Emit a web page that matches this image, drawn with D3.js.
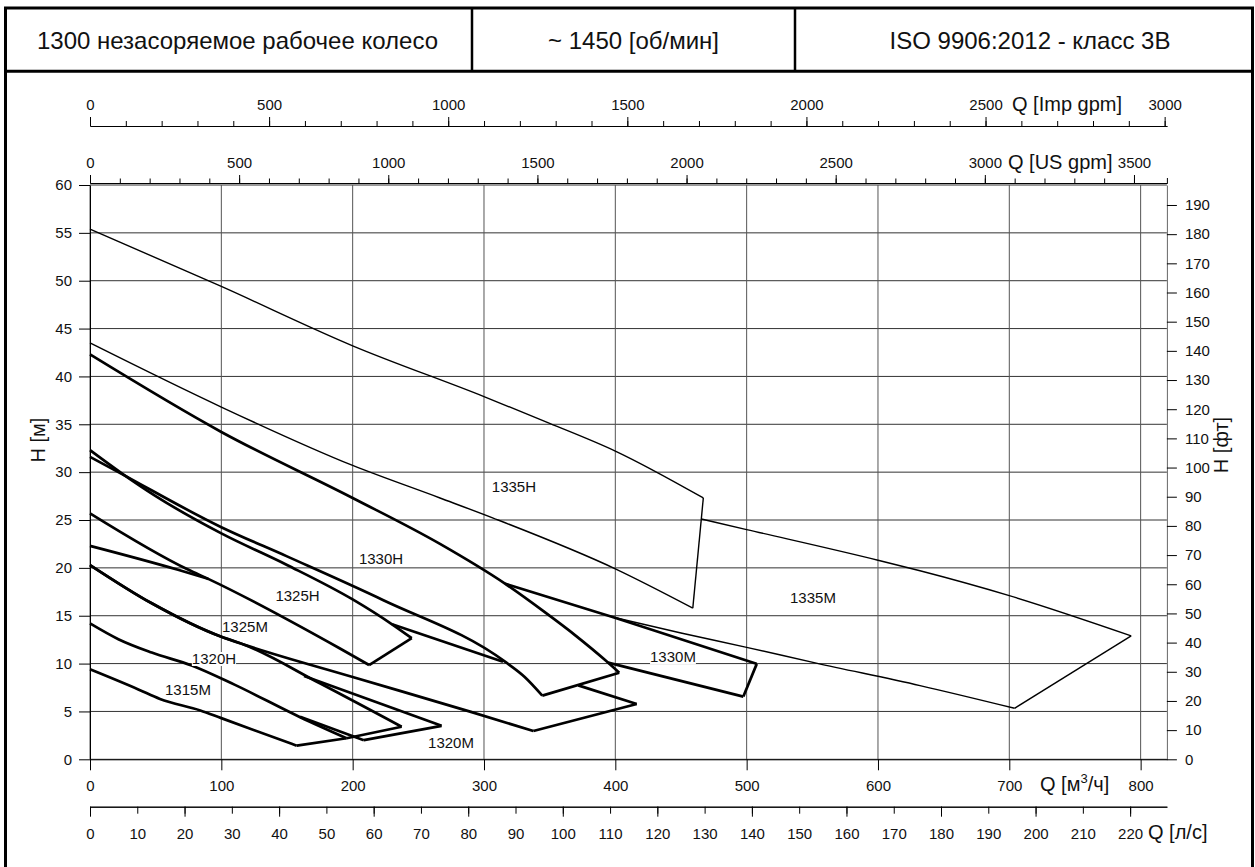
<!DOCTYPE html>
<html><head><meta charset="utf-8">
<script src="https://cdn.jsdelivr.net/npm/d3@7"></script>
<style>
html,body{margin:0;padding:0;background:#fff;}
svg{display:block;font-family:"Liberation Sans",Arial,Helvetica,sans-serif;}
</style></head><body>
<svg id="c" width="1255" height="867"></svg>
<script>
// ---------------- DATA ----------------
const headerTexts = ["1300 незасоряемое рабочее колесо", "~ 1450 [об/мин]", "ISO 9906:2012 - класс 3B"];

const hTicks   = d3.range(0, 61, 5);          // H [m]
const qTicks   = d3.range(0, 801, 100);       // Q [m3/h]
const impMajor = [0, 500, 1000, 1500, 2000, 2500, 3000];
const impMinor = d3.range(0, 3001, 100);
const usMajor  = [0, 500, 1000, 1500, 2000, 2500, 3000, 3500];
const usMinor  = d3.range(0, 3501, 100);
const lsLabels = d3.range(0, 221, 10);
const lsMajor  = d3.range(0, 221, 20);
const ftTicks  = d3.range(0, 191, 10);

// curves: [Q m3/h, H m]
const c1335H_max = [[0,55.4],[100,49.4],[200,43.2],[300,37.9],[350,35.1],[400,32.2],[467,27.3]];
const c1335H_end = [[467,27.3],[459,15.8]];
const c1335H_min = [[0,43.5],[100,36.8],[200,30.7],[266.5,27.3],[307,25.2],[400,19.9],[459,15.8]];

const c1335M_max = [[465.5,25.1],[500,24.0],[600,20.8],[632,19.7],[700,17.1],[792.8,12.9]];
const c1335M_end = [[792.8,12.9],[704,5.33]];
const c1335M_min = [[398.5,14.84],[450,13.2],[500,11.7],[553,10.05],[632,7.7],[704,5.33]];

const c1330H_max = [[0,42.3],[100,34.2],[200,27.3],[266.5,22.5],[316,18.35],[345,15.5],[370,12.9],[392,10.4],[403,9.05]];
const c1330H_end = [[403,9.05],[344.4,6.65]];
const c1330H_min = [[0,31.6],[23,29.9],[100,24.25],[150,21.2],[223,16.65],[316,10.2],[331,8.6],[344.4,6.65]];

const c1330M_max = [[316,18.35],[398.5,14.84],[507.7,9.97]];
const c1330M_end = [[507.7,9.97],[497.5,6.55]];
const c1330M_min = [[394.5,10.1],[497.5,6.55]];

const c1325H_max = [[0,32.3],[25,29.8],[50,27.5],[100,23.6],[150,20.3],[200,16.7],[230,14.1],[245,12.65]];
const c1325H_end = [[245,12.65],[212.5,9.85]];
const c1325H_min = [[0,25.7],[75,19.8],[90,18.85],[190,11.6],[212.5,9.85]];

const c1325M_maxA = [[0,22.3],[67,19.8],[90,18.85]];
const c1325M_maxB = [[230,14.1],[314.5,10.2]];
const c1325M_maxC = [[371.8,7.72],[416.3,5.78]];
const c1325M_end  = [[416.3,5.78],[337.6,2.96]];
const c1325M_min  = [[0,20.3],[47,16.3],[100,12.8],[117,12.0],[200,8.6],[289.4,4.98],[337.6,2.96]];

const c1320H_max = [[0,20.3],[47,16.3],[100,12.8],[117,12.0],[175,7.94],[237.3,3.4]];
const c1320H_end = [[237.3,3.4],[195.4,2.2]];
const c1320H_min = [[0,14.2],[21.6,12.55],[47,11.15],[77.4,9.8],[110,7.8],[160,4.4],[195.4,2.2]];

const c1315M_end = [[195.4,2.2],[157.4,1.42]];
const c1315M_min = [[0,9.4],[36.8,7.3],[53.3,6.3],[84,5.1],[100,4.3],[157.4,1.42]];

const c1320M_max = [[163,8.7],[267.7,3.5]];
const c1320M_end = [[267.7,3.5],[208.5,2.0]];
const c1320M_min = [[160,4.45],[208.5,2.0]];

const modelNames  = ["1335H","1335M","1330H","1330M","1325H","1325M","1320H","1315M","1320M"];
const modelLabelQ = [322.8, 550.5, 221.6, 443.9, 158, 118, 94.4, 74.6, 274.9];
const modelLabelH = [28.45, 16.85, 20.93, 10.69, 17.06, 13.82, 10.48, 7.24, 1.70];

// ---------------- SCALES ----------------
const IMP = 3.6662, USG = 4.4029, LS = 1/3.6, FT = 3.28084;
const x = d3.scaleLinear().domain([0, 820]).range([90, 1166.9]);
const y = d3.scaleLinear().domain([0, 60]).range([759.3, 185]);
const xImp = d3.scaleLinear().domain([0, 820*IMP]).range(x.range());
const xUS  = d3.scaleLinear().domain([0, 820*USG]).range(x.range());
const xLs  = d3.scaleLinear().domain([0, 820*LS]).range(x.range());
const yFt  = d3.scaleLinear().domain([0, 60*FT]).range(y.range());
const fmt = d3.format("d");

const svg = d3.select("#c");
const FONT = 15;

// ---------------- FRAME / HEADER ----------------
svg.append("rect").attr("x",5.5).attr("y",8).attr("width",1247).attr("height",900)
  .attr("fill","none").attr("stroke","#000").attr("stroke-width",3);
svg.append("line").attr("x1",5).attr("x2",1253).attr("y1",71.3).attr("y2",71.3)
  .attr("stroke","#000").attr("stroke-width",3);
[472, 795].forEach(d => svg.append("line").attr("x1",d).attr("x2",d).attr("y1",8).attr("y2",71)
  .attr("stroke","#000").attr("stroke-width",2.5));
const headerX = [237.5, 633.5, 1030];
headerTexts.forEach((t,i) => svg.append("text").attr("x",headerX[i]).attr("y",48.5)
  .attr("text-anchor","middle").attr("font-size",24).attr("fill","#111").text(t));

// ---------------- GRID ----------------
const grid = svg.append("g");
grid.selectAll("line.h").data(hTicks).join("line")
  .attr("x1",x(0)).attr("x2",x(820)).attr("y1",d=>y(d)).attr("y2",d=>y(d))
  .attr("stroke","#333").attr("stroke-width",1);
grid.selectAll("line.v").data(qTicks).join("line")
  .attr("x1",d=>x(d)).attr("x2",d=>x(d)).attr("y1",y(60)).attr("y2",y(0))
  .attr("stroke","#555").attr("stroke-width",1);

function styleAxis(g, color) {
  g.selectAll("text").attr("font-size",FONT).attr("font-family",null).attr("fill","#111");
  g.selectAll("line").attr("stroke",color||"#000");
  g.select(".domain").attr("stroke",color||"#000");
  g.attr("font-family",null).attr("font-size",null);
}

// Imp gpm axis
svg.append("g").attr("transform","translate(0,126)")
  .call(d3.axisTop(xImp).tickValues(impMinor).tickSize(5).tickFormat("").tickSizeOuter(0))
  .call(styleAxis);
svg.append("g").attr("transform","translate(0,126)")
  .call(d3.axisTop(xImp).tickValues(impMajor).tickSize(9).tickPadding(7).tickFormat(fmt).tickSizeOuter(0))
  .call(styleAxis);
svg.append("text").attr("x",1012).attr("y",111).attr("font-size",20).attr("fill","#111").text("Q [Imp gpm]");

// US gpm axis
svg.append("g").attr("transform","translate(0,183)")
  .call(d3.axisTop(xUS).tickValues(usMinor).tickSize(4.5).tickFormat("").tickSizeOuter(5))
  .call(styleAxis);
svg.append("g").attr("transform","translate(0,183)")
  .call(d3.axisTop(xUS).tickValues(usMajor).tickSize(8).tickPadding(7).tickFormat(fmt).tickSizeOuter(0))
  .call(styleAxis);
svg.append("text").attr("x",1008).attr("y",169).attr("font-size",20).attr("fill","#111").text("Q [US gpm]");

// left H axis
svg.append("g").attr("transform","translate(90,0)")
  .call(d3.axisLeft(y).tickValues(hTicks).tickSize(11).tickPadding(7).tickFormat(fmt).tickSizeOuter(0))
  .call(styleAxis);
svg.append("text").attr("transform","translate(45,440) rotate(-90)").attr("text-anchor","middle")
  .attr("font-size",20).attr("fill","#111").text("H [м]");

// right ft axis
svg.append("g").attr("transform","translate(1166.9,0)")
  .call(d3.axisRight(yFt).tickValues(ftTicks).tickSize(10).tickPadding(8).tickFormat(fmt).tickSizeOuter(0))
  .call(g => styleAxis(g, "#000"))
  .call(g => g.select(".domain").attr("stroke","#666"));
svg.append("text").attr("transform","translate(1228,445) rotate(-90)").attr("text-anchor","middle")
  .attr("font-size",20).attr("fill","#111").text("H [фт]");

// bottom m3/h axis
svg.append("g").attr("transform","translate(0,759.3)")
  .call(d3.axisBottom(x).tickValues(qTicks).tickSize(11).tickPadding(10.5).tickFormat(fmt).tickSizeOuter(0))
  .call(styleAxis);
const tq = svg.append("text").attr("x",1040).attr("y",791).attr("font-size",20).attr("fill","#111");
tq.append("tspan").text("Q [м");
tq.append("tspan").attr("dy",-8).attr("font-size",13).text("3");
tq.append("tspan").attr("dy",8).text("/ч]");

// l/s axis
svg.append("g").attr("transform","translate(0,806.7)")
  .call(d3.axisBottom(xLs).tickValues(lsLabels).tickSize(7).tickPadding(15).tickFormat(fmt).tickSizeOuter(0))
  .call(styleAxis);
svg.append("g").attr("transform","translate(0,806.7)")
  .call(d3.axisBottom(xLs).tickValues(lsMajor).tickSize(10).tickFormat("").tickSizeOuter(0))
  .call(styleAxis);
svg.append("text").attr("x",1148).attr("y",839).attr("font-size",20).attr("fill","#111").text("Q [л/с]");

// ---------------- CURVES ----------------
const thin = 1.4, thick = 2.7;
const series = [
  {d:c1335H_max, w:thin, s:true}, {d:c1335H_end, w:thin}, {d:c1335H_min, w:thin, s:true},
  {d:c1335M_max, w:thin, s:true}, {d:c1335M_end, w:thin}, {d:c1335M_min, w:thin, s:true},
  {d:c1330H_max, w:thick, s:true}, {d:c1330H_end, w:thick}, {d:c1330H_min, w:thick, s:true},
  {d:c1330M_max, w:thick, s:true}, {d:c1330M_end, w:thick}, {d:c1330M_min, w:thick},
  {d:c1325H_max, w:thick, s:true}, {d:c1325H_end, w:thick}, {d:c1325H_min, w:thick, s:true},
  {d:c1325M_maxA, w:thick, s:true}, {d:c1325M_maxB, w:thick}, {d:c1325M_maxC, w:thick},
  {d:c1325M_end, w:thick}, {d:c1325M_min, w:thick, s:true},
  {d:c1320H_max, w:thick, s:true}, {d:c1320H_end, w:thick}, {d:c1320H_min, w:thick, s:true},
  {d:c1315M_end, w:thick}, {d:c1315M_min, w:thick, s:true},
  {d:c1320M_max, w:thick}, {d:c1320M_end, w:thick}, {d:c1320M_min, w:thick}
];
const lineSmooth = d3.line().x(d=>x(d[0])).y(d=>y(d[1])).curve(d3.curveMonotoneX);
const lineStraight = d3.line().x(d=>x(d[0])).y(d=>y(d[1]));
svg.append("g").selectAll("path").data(series).join("path")
  .attr("d", s => (s.s ? lineSmooth : lineStraight)(s.d))
  .attr("fill","none").attr("stroke","#000").attr("stroke-width",s=>s.w)
  .attr("stroke-linejoin","miter").attr("stroke-linecap","butt");

// ---------------- MODEL LABELS ----------------
const lg = svg.append("g");
modelNames.forEach((n,i) => {
  const g = lg.append("g");
  const cx = x(modelLabelQ[i]), cy = y(modelLabelH[i]);
  const t = g.append("text").attr("x",cx).attr("y",cy)
    .attr("dy","0.36em").attr("text-anchor","middle").attr("font-size",FONT).attr("fill","#111").text(n);
  const b = t.node().getBBox();
  g.insert("rect","text").attr("x",b.x).attr("y",cy-7).attr("width",b.width).attr("height",14)
    .attr("fill","#fff");
});
</script>
</body></html>
